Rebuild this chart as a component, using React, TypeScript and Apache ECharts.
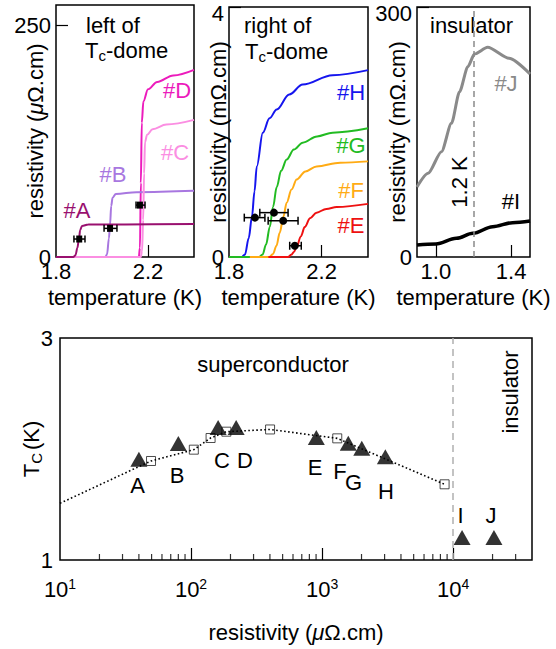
import React, { useEffect, useRef } from 'react';
import * as echarts from 'echarts';

const FONT = '"Liberation Sans", Arial, Helvetica, sans-serif';

// ---- Panel 1: left of Tc-dome (resistivity, µΩ.cm vs temperature, K)
const curveA: number[][] = [[1.8, 0], [1.875, 0], [1.885, 2], [1.893, 10], [1.9, 20], [1.905, 29], [1.913, 33.5], [1.94, 35], [2.1, 35.2], [2.4, 35.5]];
const curveB: number[][] = [[1.8, 0], [2.015, 0], [2.022, 3], [2.03, 20], [2.035, 35], [2.04, 55], [2.046, 64], [2.06, 68], [2.15, 70], [2.4, 71.5]];
const curveC: number[][] = [[1.8, 0], [2.168, 0], [2.174, 6], [2.179, 40], [2.183, 90], [2.187, 124], [2.196, 132], [2.22, 138], [2.28, 143], [2.4, 148]];
const curveD: number[][] = [[1.8, 0], [2.16, 0], [2.165, 10], [2.169, 80], [2.173, 145], [2.18, 168], [2.2, 181], [2.24, 189], [2.31, 196], [2.4, 202]];
// [T, rho, Tlow, Thigh]
const errLeft: number[][] = [[1.901, 19.4, 1.878, 1.926], [2.035, 30.9, 2.009, 2.065], [2.165, 56, 2.148, 2.187]];

// ---- Panel 2: right of Tc-dome (mΩ.cm)
const curveH: number[][] = [[1.84, 0], [1.855, 0], [1.869, 0.04], [1.885, 0.3], [1.899, 0.64], [1.91, 1.05], [1.92, 1.45], [1.946, 1.99], [1.975, 2.22], [2.006, 2.36], [2.06, 2.6], [2.118, 2.76], [2.247, 2.91], [2.4, 2.99]];
const curveG: number[][] = [[1.8, 0], [1.93, 0], [1.945, 0.04], [1.96, 0.2], [1.976, 0.48], [1.99, 0.8], [2.006, 1.12], [2.025, 1.38], [2.049, 1.56], [2.08, 1.72], [2.118, 1.83], [2.18, 1.93], [2.247, 1.99], [2.4, 2.06]];
const curveF: number[][] = [[1.89, 0], [1.975, 0], [1.99, 0.05], [2.005, 0.18], [2.019, 0.39], [2.035, 0.65], [2.049, 0.87], [2.07, 1.08], [2.092, 1.24], [2.13, 1.37], [2.178, 1.45], [2.28, 1.51], [2.4, 1.53]];
const curveE: number[][] = [[1.97, 0], [2.055, 0], [2.07, 0.04], [2.08, 0.08], [2.092, 0.16], [2.11, 0.33], [2.127, 0.48], [2.15, 0.62], [2.178, 0.71], [2.22, 0.77], [2.265, 0.8], [2.4, 0.85]];
const errMid: number[][] = [[1.912, 0.63, 1.866, 1.955], [1.994, 0.71, 1.933, 2.055], [2.034, 0.58, 1.969, 2.098], [2.084, 0.18, 2.062, 2.112]];

// ---- Panel 3: insulator (mΩ.cm)
const curveJ: number[][] = [[0.9, 84], [0.959, 100.4], [1.03, 126.4], [1.083, 160.4], [1.126, 198.4], [1.17, 228.4], [1.205, 243.6], [1.275, 251.6], [1.389, 238.4], [1.5, 219.6]];
const curveI: number[][] = [[0.9, 14.4], [1.0, 15.6], [1.109, 22.4], [1.197, 28.4], [1.302, 36.4], [1.407, 41.2], [1.5, 43.2]];
const markT = 1.2;

// ---- Panel 4: Tc vs resistivity (µΩ.cm)
const triNames = ['A', 'B', 'C', 'D', 'E', 'F', 'G', 'H', 'I', 'J'];
const triRho = [40, 80, 161, 221, 904, 1585, 2009, 3040, 11700, 20500];
const triTc = [1.907, 2.05, 2.194, 2.194, 2.104, 2.051, 2.006, 1.93, 1.203, 1.203];
const sqRho = [49.5, 105, 141, 186, 401, 1306, 8610];
const sqTc = [1.892, 1.994, 2.099, 2.156, 2.176, 2.096, 1.682];
const trendRho = [10, 49.5, 105, 141, 186, 401, 1306, 8610];
const trendTc = [1.511, 1.892, 1.994, 2.099, 2.156, 2.176, 2.096, 1.682];
const boundaryRho = 10000;
const minorTickRho = [20, 30, 40, 50, 60, 70, 80, 90, 200, 300, 400, 500, 600, 700, 800, 900, 2000, 3000, 4000, 5000, 6000, 7000, 8000, 9000, 20000, 30000];
const logLabels = [10, 100, 1000, 10000];

const COL = { A: '#99106f', B: '#a877e0', C: '#fb8ee2', D: '#ec1bbc', H: '#1515ee', G: '#22bb22', F: '#ffab14', E: '#ee1111', J: '#8a8a8a', I: '#000000' };

const errRender = (kind: string) => (params: any, api: any) => {
  const y = api.value(1);
  const c = api.coord([api.value(0), y]);
  const lo = api.coord([api.value(2), y]);
  const hi = api.coord([api.value(3), y]);
  const st = { stroke: '#000', lineWidth: 1.5 };
  const cap = kind === 'rect' ? 3.5 : 4;
  const children: any[] = [
    { type: 'line', shape: { x1: lo[0], y1: c[1], x2: hi[0], y2: c[1] }, style: st },
    { type: 'line', shape: { x1: lo[0], y1: c[1] - cap, x2: lo[0], y2: c[1] + cap }, style: st },
    { type: 'line', shape: { x1: hi[0], y1: c[1] - cap, x2: hi[0], y2: c[1] + cap }, style: st },
  ];
  if (kind === 'rect') children.push({ type: 'rect', shape: { x: c[0] - 3, y: c[1] - 3.5, width: 6, height: 7 }, style: { fill: '#000' } });
  else children.push({ type: 'circle', shape: { cx: c[0], cy: c[1], r: 4 }, style: { fill: '#000' } });
  return { type: 'group', children };
};

const tickStyle = { color: '#000', width: 1.2 };
const labelBase = { color: '#000', fontSize: 22, fontFamily: FONT };
const resName = '{n|resistivity (}{i|\u03bc}{n|\u03a9.cm)}';
const resNameM = 'resistivity (m\u03a9.cm)';
const nameStyle = {
  color: '#000', fontSize: 22, fontFamily: FONT,
  rich: { n: { fontSize: 22, fontFamily: FONT, color: '#000' }, i: { fontSize: 22, fontFamily: FONT, fontStyle: 'italic', color: '#000' } },
};

function tempAxis(grid: number, min: number, max: number, labels: number[], ticks: number[]) {
  return {
    type: 'value', gridIndex: grid, min, max,
    axisLine: { show: false }, splitLine: { show: false },
    axisTick: { show: true, inside: true, length: 12, lineStyle: tickStyle, customValues: ticks },
    axisLabel: { ...labelBase, margin: 3, customValues: labels, formatter: (v: number) => v.toFixed(1) },
    name: 'temperature (K)', nameLocation: 'middle', nameGap: 29, nameTextStyle: nameStyle, nameMoveOverlap: false,
  };
}
// labels at the very top of a panel sit just below the border
function resAxis(grid: number, max: number, labels: number[], ticks: number[], name: string, gap: number, topValue: number | null) {
  return {
    type: 'value', gridIndex: grid, min: 0, max,
    axisLine: { show: false }, splitLine: { show: false },
    axisTick: { show: true, inside: true, length: 12, lineStyle: tickStyle, customValues: ticks },
    axisLabel: {
      ...labelBase, margin: 5, customValues: labels,
      formatter: (v: number) => (topValue !== null && v === topValue ? `{t|${v}}` : `${v}`),
      rich: { t: { fontSize: 22, fontFamily: FONT, color: '#000', padding: [13, 0, 0, 0] } },
    },
    name, nameLocation: 'middle', nameGap: gap, nameTextStyle: nameStyle, nameMoveOverlap: false,
  };
}

function curve(data: number[][], color: string, xi: number, width = 2) {
  return {
    type: 'line', xAxisIndex: xi, yAxisIndex: xi, data, showSymbol: false, symbol: 'none',
    smooth: 0.35, smoothMonotone: 'x', clip: false,
    lineStyle: { color, width },
  };
}

function txt(x: number, y: number, text: string, fill = '#000', align = 'center', size = 22, rotation = 0) {
  return {
    type: 'text', x, y, rotation, silent: true,
    style: { text, fill, font: `${size}px ${FONT}`, textAlign: align, textVerticalAlign: 'middle', verticalAlign: 'middle' },
  };
}
function tcText(x: number, y: number) {
  return {
    type: 'text', x, y, silent: true,
    style: {
      text: '{a|T}{b|c}{a|-dome}', textAlign: 'left', textVerticalAlign: 'middle', verticalAlign: 'middle',
      rich: {
        a: { fontSize: 22, fontFamily: FONT, color: '#000', lineHeight: 26 },
        b: { fontSize: 15, fontFamily: FONT, color: '#000', lineHeight: 26, verticalAlign: 'bottom', padding: [0, 0, 0, 0] },
      },
    },
  };
}

export default function App() {
  const ref = useRef<HTMLDivElement>(null);
  useEffect(() => {
    document.body.style.margin = '0';
    if (!ref.current) return;
    const chart = echarts.init(ref.current, undefined, { renderer: 'svg' });
    const gridBase = { show: true, borderColor: '#000', borderWidth: 1.5, backgroundColor: 'transparent', containLabel: false, outerBoundsMode: 'none' };
    const option: any = {
      animation: false,
      backgroundColor: '#fff',
      grid: [
        { ...gridBase, left: 56, top: 5, width: 138, height: 252 },
        { ...gridBase, left: 229, top: 7, width: 139, height: 250 },
        { ...gridBase, left: 417, top: 7, width: 113, height: 250 },
        { ...gridBase, left: 60, top: 338, width: 472, height: 222 },
      ],
      xAxis: [
        tempAxis(0, 1.8, 2.4, [1.8, 2.2], [2.2]),
        tempAxis(1, 1.8, 2.4, [1.8, 2.2], [2.2]),
        tempAxis(2, 0.9, 1.5, [1.0, 1.4], [1.0, 1.4]),
        {
          type: 'log', logBase: 10, gridIndex: 3, min: 10, max: 40000,
          axisLine: { show: false }, splitLine: { show: false },
          axisTick: { show: true, inside: true, length: 12, lineStyle: tickStyle, customValues: [100, 1000, 10000] },
          axisLabel: {
            ...labelBase, margin: 17, lineHeight: 24, customValues: logLabels,
            formatter: (v: number) => `{b|10}{s|${Math.round(Math.log10(v))}}`,
            rich: {
              b: { fontSize: 22, fontFamily: FONT, color: '#000', lineHeight: 24 },
              s: { fontSize: 14, fontFamily: FONT, color: '#000', lineHeight: 14, verticalAlign: 'top' },
            },
          },
          name: resName, nameLocation: 'middle', nameGap: 61, nameTextStyle: nameStyle, nameMoveOverlap: false,
        },
      ],
      yAxis: [
        resAxis(0, 272, [0, 250], [250], resName, 10, null),
        resAxis(1, 4, [0, 4], [4], resNameM, 0, 4),
        resAxis(2, 300, [0, 300], [300], resNameM, 9, 300),
        {
          type: 'value', gridIndex: 3, min: 1, max: 3,
          axisLine: { show: false }, splitLine: { show: false }, axisTick: { show: false },
          axisLabel: { ...labelBase, margin: 7, customValues: [1, 3] },
          name: '{a|T}{b|C}{a|(K)}', nameLocation: 'middle', nameGap: 16, nameMoveOverlap: false,
          nameTextStyle: {
            color: '#000', fontSize: 22, fontFamily: FONT,
            rich: {
              a: { fontSize: 22, fontFamily: FONT, color: '#000', lineHeight: 26 },
              b: { fontSize: 15, fontFamily: FONT, color: '#000', lineHeight: 26, verticalAlign: 'bottom', padding: [0, 3, 0, 0] },
            },
          },
        },
      ],
      series: [
        curve(curveD, COL.D, 0),
        curve(curveB, COL.B, 0),
        curve(curveC, COL.C, 0),
        curve(curveA, COL.A, 0),
        { type: 'custom', xAxisIndex: 0, yAxisIndex: 0, data: errLeft, renderItem: errRender('rect'), encode: { x: [0, 2, 3], y: 1 }, clip: false, z: 5 },
        curve(curveH, COL.H, 1),
        curve(curveG, COL.G, 1),
        curve(curveF, COL.F, 1),
        curve(curveE, COL.E, 1),
        { type: 'custom', xAxisIndex: 1, yAxisIndex: 1, data: errMid, renderItem: errRender('circle'), encode: { x: [0, 2, 3], y: 1 }, clip: false, z: 5 },
        {
          ...curve(curveJ, COL.J, 2, 3),
          smooth: 0.25,
          markLine: {
            silent: true, symbol: 'none', label: { show: false },
            lineStyle: { color: '#8a8a8a', type: [6, 4], width: 1.5 },
            data: [{ xAxis: markT }],
          },
        },
        curve(curveI, COL.I, 2, 3.5),
        {
          type: 'scatter', xAxisIndex: 3, yAxisIndex: 3, silent: true, clip: false,
          data: minorTickRho.map((r) => [r, 1]),
          symbol: 'rect', symbolSize: [1.2, 6], symbolOffset: [0, -3],
          itemStyle: { color: '#000' },
        },
        {
          type: 'line', xAxisIndex: 3, yAxisIndex: 3, data: trendRho.map((r, i) => [r, trendTc[i]]),
          showSymbol: false, symbol: 'none', smooth: false, clip: false,
          lineStyle: { color: '#000', width: 1.6, type: [1.6, 2.4] },
        },
        {
          type: 'scatter', xAxisIndex: 3, yAxisIndex: 3, data: sqRho.map((r, i) => [r, sqTc[i]]),
          symbol: 'rect', symbolSize: 9, itemStyle: { color: 'rgba(0,0,0,0)', borderColor: '#222', borderWidth: 1 },
        },
        {
          type: 'scatter', xAxisIndex: 3, yAxisIndex: 3, data: triRho.map((r, i) => [r, triTc[i]]),
          symbol: 'triangle', symbolSize: [17, 15], itemStyle: { color: '#000' }, z: 4,
          markLine: {
            silent: true, symbol: 'none', label: { show: false },
            lineStyle: { color: '#b0b0b0', type: [7, 5], width: 1.5 },
            data: [{ xAxis: boundaryRho }],
          },
        },
      ],
      graphic: [
        txt(86, 25, 'left of', '#000', 'left'),
        tcText(85, 50),
        txt(244, 25, 'right of', '#000', 'left'),
        tcText(245, 51),
        txt(430, 25, 'insulator', '#000', 'left'),
        txt(77, 210, '#A', COL.A), txt(113, 174, '#B', COL.B), txt(175, 152, '#C', COL.C), txt(177, 90, '#D', COL.D),
        txt(351, 92, '#H', COL.H), txt(351, 145, '#G', COL.G), txt(351, 190, '#F', COL.F), txt(351, 225, '#E', COL.E),
        txt(506, 83, '#J', COL.J), txt(511, 201, '#I', COL.I),
        txt(459, 182, '1.2 K', '#000', 'center', 22, Math.PI / 2),
        txt(273, 364, 'superconductor'),
        txt(510, 392, 'insulator', '#000', 'center', 22, Math.PI / 2),
        ...triNames.map((n, i) => {
          const pos = [[137.5, 485], [177, 475], [222, 460], [245, 460], [315, 467], [340, 471], [353.5, 482], [386, 491], [460.5, 515], [491, 515]][i];
          return txt(pos[0], pos[1], n);
        }),
      ],
    };
    chart.setOption(option);
    return () => chart.dispose();
  }, []);
  return <div ref={ref} style={{ width: 556, height: 649 }} />;
}
